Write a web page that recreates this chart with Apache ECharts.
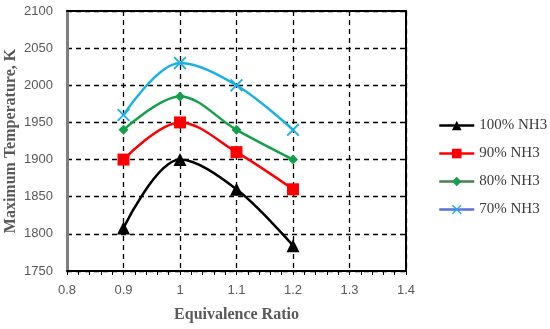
<!DOCTYPE html>
<html><head><meta charset="utf-8">
<script src="https://cdn.jsdelivr.net/npm/echarts@6/dist/echarts.min.js"></script>
<style>html,body{margin:0;padding:0;background:#fff}#c{width:550px;height:329px}</style>
</head><body><div id="c"></div>
<script>
const xValues = [0.9, 1.0, 1.1, 1.2];
const seriesNames = ['100% NH3', '90% NH3', '80% NH3', '70% NH3'];
const nh3_100 = [1808, 1900, 1860, 1784];
const nh3_90 = [1900, 1950, 1910, 1860];
const nh3_80 = [1940, 1985, 1940, 1900];
const nh3_70 = [1960, 2030, 2000, 1940];
const xTicks = [0.8, 0.9, 1.0, 1.1, 1.2, 1.3, 1.4];
const yTicks = [1750, 1800, 1850, 1900, 1950, 2000, 2050, 2100];

const colors = ['#000000', '#ff0000', '#14a04a', '#1ab0e4'];
const legendLine = ['#000000', '#ff0000', '#4a7d55', '#5a70d8'];
const xPath = 'path://M1,0 L5,4 L9,0 L10,1 L6,5 L10,9 L9,10 L5,6 L1,10 L0,9 L4,5 L0,1 Z';
const symbols = ['triangle', 'rect', 'diamond', xPath];
const sizes = [13, 12, 10, 13];
const allData = [nh3_100, nh3_90, nh3_80, nh3_70];

const frameAxis = {
  axisLine: {show: true, onZero: false, lineStyle: {color: '#000', width: 2}},
  axisTick: {show: false}, axisLabel: {show: false}, splitLine: {show: false}
};

const chart = echarts.init(document.getElementById('c'), null, {renderer: 'canvas'});
chart.setOption({
  animation: false,
  grid: {left: 67, right: 144, top: 11, bottom: 58, containLabel: false, outerBoundsMode: 'none'},
  legend: {
    orient: 'vertical', left: 438, top: 118, padding: 0, itemGap: 13, itemWidth: 35, itemHeight: 12,
    textStyle: {fontFamily: 'Liberation Serif', fontSize: 15, color: '#3a3a3a'},
    data: seriesNames.map((n, i) => ({name: n, lineStyle: {color: legendLine[i], width: 2.5}}))
  },
  xAxis: [{
    type: 'value', min: 0.8, max: 1.4, interval: 0.1,
    name: 'Equivalence Ratio', nameLocation: 'middle', nameGap: 36, nameMoveOverlap: false,
    nameTextStyle: {fontFamily: 'Liberation Serif', fontWeight: 'bold', fontSize: 16, color: '#595959'},
    axisLine: {onZero: false, lineStyle: {color: '#000', width: 2}},
    axisTick: {show: true, length: 4, lineStyle: {color: '#000'}},
    minorTick: {show: true, splitNumber: 5, length: 4, lineStyle: {color: '#000'}},
    axisLabel: {fontFamily: 'Liberation Sans', fontSize: 13, color: '#595959', margin: 13,
      formatter: v => { const r = Math.round(v * 10) / 10; return xTicks.includes(r) ? String(r) : ''; }},
    splitLine: {show: true, lineStyle: {color: '#000', type: [5, 4], width: 1.3}}
  }, Object.assign({type: 'value', min: 0.8, max: 1.4, position: 'top'}, frameAxis)],
  yAxis: [{
    type: 'value', min: 1750, max: 2100, interval: 50,
    name: 'Maximum Temperature, K', nameLocation: 'middle', nameGap: 48, nameMoveOverlap: false,
    nameTextStyle: {fontFamily: 'Liberation Serif', fontWeight: 'bold', fontSize: 16, color: '#595959'},
    axisLine: {show: true, onZero: false, lineStyle: {color: '#7f7f7f', width: 3}},
    axisTick: {show: false},
    axisLabel: {fontFamily: 'Liberation Sans', fontSize: 13, color: '#595959', margin: 14,
      formatter: v => yTicks.includes(v) ? String(v) : ''},
    splitLine: {show: true, lineStyle: {color: '#000', type: [5, 4], width: 1.3}}
  }, Object.assign({type: 'value', min: 1750, max: 2100, position: 'right'}, frameAxis)],
  series: seriesNames.map((n, i) => ({
    name: n, type: 'line', smooth: 0.35,
    data: xValues.map((x, j) => [x, allData[i][j]]),
    symbol: symbols[i], symbolSize: sizes[i],
    lineStyle: {color: colors[i], width: 2.5},
    itemStyle: {color: colors[i]},
    z: 3 + i
  }))
});
</script>
</body></html>
